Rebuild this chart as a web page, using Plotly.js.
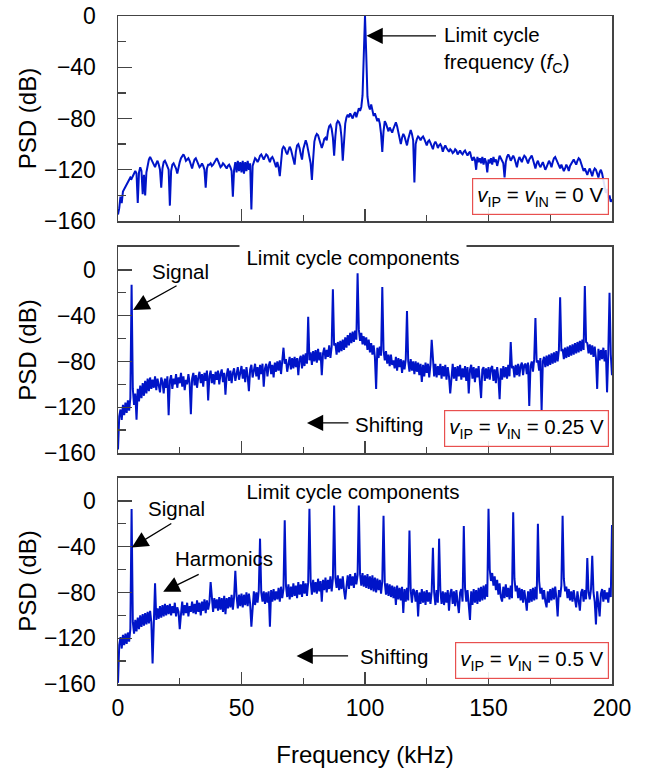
<!DOCTYPE html>
<html>
<head>
<meta charset="utf-8">
<script src="https://cdn.plot.ly/plotly-3.0.1.min.js"></script>
<style>html,body{margin:0;padding:0;background:#fff;}#chart{width:658px;height:769px;}</style>
</head>
<body>
<div id="chart"></div>
<script>
// Frequency grid: 0 to 200 kHz, 0.5 kHz step (x0/dx given to Plotly)
const freqStart = 0;
const freqStep = 0.5;

// PSD (dB), vIP = vIN = 0 V
const psdZero = [
-155,-150,-141,-146,-137,-135,-133,-131,-129,-128,-126,-127,-125,-124,-121,-123,-146,-122,-118,-121,
-139,-124,-140,-122,-115,-112,-110,-112,-114,-116,-118,-115,-113,-116,-120,-134,-119,-114,-113,-115,
-117,-120,-148,-121,-116,-115,-117,-119,-123,-117,-114,-111,-109,-108,-110,-113,-112,-111,-113,-116,
-119,-115,-112,-111,-113,-116,-118,-117,-115,-117,-120,-134,-119,-116,-116,-115,-117,-116,-114,-112,
-111,-113,-116,-118,-117,-115,-116,-118,-119,-117,-116,-118,-121,-141,-120,-114,-122,-113,-121,-114,
-122,-113,-123,-114,-121,-113,-120,-115,-151,-117,-113,-111,-112,-114,-112,-109,-108,-110,-112,-110,
-108,-109,-112,-114,-111,-110,-112,-116,-118,-114,-118,-125,-110,-104,-102,-103,-106,-108,-105,-102,
-104,-108,-112,-116,-106,-101,-100,-103,-108,-112,-104,-99,-97,-100,-104,-110,-115,-128,-112,-98,
-94,-92,-93,-96,-99,-103,-100,-96,-95,-97,-90,-86,-85,-88,-95,-109,-94,-84,-82,-83,
-86,-95,-113,-96,-84,-79,-77,-79,-76,-78,-80,-77,-75,-79,-76,-72,-74,-71,-62,-30,
0,-30,-63,-70,-73,-69,-74,-78,-76,-79,-82,-80,-84,-92,-106,-90,-82,-84,-88,-90,
-87,-89,-91,-88,-85,-83,-86,-91,-96,-100,-95,-92,-94,-97,-101,-96,-91,-89,-92,-97,
-130,-100,-96,-94,-95,-97,-95,-94,-96,-99,-101,-98,-97,-99,-102,-104,-100,-98,-100,-103,
-101,-100,-102,-106,-103,-101,-103,-105,-106,-104,-105,-107,-106,-104,-105,-108,-106,-105,-107,-108,
-106,-105,-107,-109,-107,-106,-110,-113,-110,-112,-120,-110,-114,-111,-115,-110,-116,-111,-114,-122,
-112,-115,-111,-116,-110,-114,-112,-117,-113,-109,-111,-113,-115,-126,-114,-110,-108,-110,-113,-111,
-109,-111,-115,-118,-113,-110,-112,-114,-111,-109,-110,-112,-115,-112,-110,-109,-112,-116,-119,-115,
-113,-116,-118,-116,-114,-117,-120,-118,-116,-113,-115,-118,-114,-111,-110,-112,-115,-117,-119,-116,
-118,-121,-119,-116,-118,-121,-117,-115,-113,-112,-114,-116,-113,-111,-112,-115,-118,-121,-119,-122,
-124,-121,-119,-122,-125,-121,-119,-120,-123,-126,-122,-120,-123,-127,-133,-138,-135,-142,-140,-145,
-143
];

// PSD (dB), vIP = vIN = 0.25 V
const psdQuarter = [
-157,-128,-122,-131,-118,-127,-116,-125,-114,-123,-112,-13,-104,-118,-108,-131,-104,-115,-101,-112,
-99,-110,-97,-108,-95,-106,-94,-104,-96,-103,-93,-105,-95,-101,-107,-94,-98,-108,-95,-103,
-93,-127,-97,-92,-104,-95,-100,-91,-103,-94,-99,-90,-102,-93,-105,-96,-100,-91,-99,-126,
-95,-90,-101,-92,-103,-94,-89,-99,-91,-102,-90,-97,-88,-114,-93,-88,-99,-91,-100,-89,
-96,-88,-100,-91,-87,-98,-90,-109,-92,-86,-97,-88,-99,-90,-86,-97,-89,-85,-96,-88,
-84,-95,-87,-98,-85,-93,-106,-87,-83,-94,-86,-82,-93,-85,-96,-83,-91,-82,-102,-86,
-82,-93,-84,-80,-91,-83,-94,-81,-89,-80,-88,-79,-91,-82,-68,-82,-78,-89,-80,-76,
-87,-77,-86,-76,-85,-77,-92,-78,-75,-86,-74,-84,-73,-82,-41,-79,-72,-83,-71,-80,
-70,-81,-69,-79,-72,-92,-73,-68,-78,-70,-76,-66,-77,-67,-17,-66,-64,-74,-63,-72,
-62,-71,-61,-70,-59,-68,-57,-66,-55,-64,-54,-63,-53,-61,-3,-52,-62,-55,-65,-58,
-66,-59,-70,-61,-72,-64,-74,-66,-76,-104,-68,-77,-67,-75,-15,-70,-79,-71,-82,-74,
-84,-74,-83,-79,-86,-76,-88,-77,-85,-78,-90,-79,-87,-78,-36,-80,-89,-78,-88,-80,
-91,-80,-89,-81,-92,-82,-98,-83,-93,-81,-90,-82,-94,-83,-61,-84,-93,-82,-94,-84,
-92,-82,-95,-84,-93,-83,-96,-85,-93,-108,-91,-82,-95,-85,-97,-84,-93,-83,-96,-86,
-94,-84,-97,-85,-108,-87,-83,-95,-85,-98,-86,-94,-84,-96,-112,-87,-85,-97,-86,-95,
-85,-96,-86,-84,-97,-87,-99,-85,-94,-113,-86,-96,-84,-94,-85,-95,-83,-93,-63,-86,
-84,-94,-83,-92,-82,-93,-84,-81,-92,-83,-82,-91,-81,-119,-84,-80,-89,-78,-42,-81,
-79,-88,-77,-123,-80,-76,-85,-75,-84,-74,-83,-73,-82,-72,-81,-71,-80,-70,-24,-71,
-69,-78,-68,-77,-67,-76,-66,-75,-65,-74,-64,-73,-63,-72,-62,-71,-61,-70,-14,-63,
-64,-73,-65,-74,-66,-76,-67,-77,-104,-69,-79,-70,-78,-68,-80,-70,-107,-72,-20,-74,
-92
];

// PSD (dB), vIP = vIN = 0.5 V
const psdHalf = [
-159,-126,-119,-129,-117,-126,-116,-125,-115,-123,-112,-7,-106,-116,-104,-114,-102,-112,-100,-110,
-99,-109,-98,-108,-97,-107,-96,-106,-142,-104,-72,-104,-94,-103,-92,-102,-91,-101,-90,-100,
-91,-99,-90,-100,-92,-98,-89,-101,-93,-97,-112,-99,-88,-100,-91,-98,-89,-101,-92,-97,
-88,-98,-90,-99,-87,-97,-89,-100,-88,-96,-86,-98,-87,-95,-89,-71,-86,-97,-85,-94,
-86,-96,-84,-95,-85,-97,-83,-99,-85,-94,-84,-93,-82,-95,-84,-61,-83,-94,-82,-92,
-81,-93,-82,-91,-80,-92,-81,-90,-110,-89,-79,-91,-80,-89,-78,-33,-80,-88,-79,-90,
-80,-89,-79,-110,-78,-88,-77,-87,-79,-86,-76,-88,-75,-85,-77,-17,-74,-84,-73,-86,
-75,-84,-72,-83,-74,-85,-71,-82,-73,-84,-70,-81,-72,-83,-71,-7,-70,-82,-69,-80,
-71,-81,-68,-79,-70,-88,-69,-78,-67,-80,-69,-77,-66,-79,-68,-4,-67,-76,-65,-78,
-68,-77,-66,-78,-86,-75,-65,-77,-64,-74,-66,-76,-63,-73,-65,-4,-64,-74,-63,-75,
-65,-76,-64,-77,-66,-78,-65,-79,-67,-80,-68,-78,-69,-81,-70,-13,-71,-82,-72,-83,
-73,-84,-74,-85,-75,-91,-74,-86,-76,-87,-75,-98,-77,-88,-76,-87,-26,-78,-89,-77,
-79,-88,-78,-101,-80,-90,-77,-89,-79,-91,-78,-88,-80,-90,-79,-41,-80,-91,-78,-89,
-33,-78,-90,-79,-91,-80,-89,-78,-96,-81,-77,-90,-79,-92,-78,-89,-98,-80,-77,-88,
-22,-76,-88,-78,-90,-104,-79,-91,-77,-89,-78,-90,-76,-88,-75,-87,-74,-86,-73,-84,
-7,-60,-70,-63,-74,-66,-78,-69,-82,-72,-84,-88,-75,-85,-73,-84,-76,-86,-74,-85,
-10,-68,-79,-74,-85,-76,-87,-77,-89,-78,-86,-96,-79,-89,-77,-88,-76,-87,-75,-86,
-20,-70,-81,-76,-86,-78,-88,-93,-79,-89,-77,-87,-76,-86,-75,-85,-101,-78,-84,-74,
-13,-68,-79,-75,-85,-77,-87,-79,-88,-78,-86,-93,-79,-89,-96,-80,-77,-88,-78,-86,
-50,-80,-86,-77,-48,-80,-88,-108,-79,-90,-101,-81,-77,-88,-78,-86,-80,-89,-76,-84,
-21
];

const xTickVals = [0, 50, 100, 150, 200];
const xTickText = ['0', '50', '100', '150', '200'];
const yTickVals = [-160, -120, -80, -40, 0];
const yTickText = ['\u2212160', '\u2212120', '\u221280', '\u221240', '0'];

const FONT = 'Liberation Sans, Arial, Helvetica, sans-serif';
const LINE = 'rgb(0,20,200)';
const AX = '#444';

function trace(y, xa, ya) {
  return {type: 'scatter', mode: 'lines', x0: freqStart, dx: freqStep, y: y,
    xaxis: xa, yaxis: ya, line: {color: LINE, width: 2}, hoverinfo: 'skip', showlegend: false};
}

function xAxis(anchor, labels) {
  const a = {
    anchor: anchor, range: [0, 200], tickmode: 'array', tickvals: xTickVals, ticktext: xTickText,
    showticklabels: labels, ticks: 'inside', ticklen: 12, tickwidth: 1.3, tickcolor: AX,
    minor: {tickmode: 'array', tickvals: [25, 75, 125, 175], ticks: 'inside', ticklen: 6, tickwidth: 1.3, tickcolor: AX},
    showline: true, linecolor: AX, linewidth: 1.5, mirror: true, showgrid: false, zeroline: false,
    tickfont: {family: FONT, size: 23, color: '#000'}, ticklabelstandoff: 3, fixedrange: true
  };
  if (labels) a.title = {text: 'Frequency (kHz)', font: {family: FONT, size: 24, color: '#000'}, standoff: 26};
  return a;
}

function yAxis(anchor, domain, top) {
  return {
    anchor: anchor, domain: domain, range: [-160, top], tickmode: 'array', tickvals: yTickVals, ticktext: yTickText,
    ticks: 'inside', ticklen: 14, tickwidth: 1.3, tickcolor: AX,
    minor: {tickmode: 'array', tickvals: [-140, -100, -60, -20], ticks: 'inside', ticklen: 8, tickwidth: 1.3, tickcolor: AX},
    showline: true, linecolor: AX, linewidth: 1.5, mirror: true, showgrid: false, zeroline: false,
    tickfont: {family: FONT, size: 23, color: '#000'}, ticklabelstandoff: 16,
    title: {text: 'PSD (dB)', font: {family: FONT, size: 24, color: '#000'}, standoff: 0}, fixedrange: true
  };
}

const txt = {family: FONT, size: 20.5, color: '#000'};

function label(xr, yr, x, y, text, opts) {
  return Object.assign({xref: xr, yref: yr, x: x, y: y, text: text, showarrow: false, font: txt}, opts || {});
}
function arrow(xr, yr, x, y, ax, ay) {
  return {xref: xr, yref: yr, x: x, y: y, ax: ax, ay: ay, text: '', showarrow: true,
    arrowhead: 2, arrowsize: 2.5, arrowwidth: 1.3, arrowcolor: '#000', standoff: 0, startstandoff: 0};
}
function box(xr, yr, x, y, text) {
  return {xref: xr, yref: yr, x: x, y: y, xanchor: 'right', yanchor: 'bottom', text: text, showarrow: false,
    font: txt, bgcolor: 'rgba(255,255,255,0.88)', bordercolor: '#e8504f', borderwidth: 1.2, borderpad: 4};
}

const annotations = [
  label('x', 'y', 131.2, -26.5, 'Limit cycle<br>frequency (<i>f</i><sub>C</sub>)', {xanchor: 'left', align: 'left'}),
  arrow('x', 'y', 100.6, -15.5, 71, 0),
  box('x', 'y', 198.8, -155.5, '<i>v</i><sub>IP</sub> = <i>v</i><sub>IN</sub> = 0 V'),

  label('x2', 'y2', 95.3, 10.5, 'Limit cycle components', {bgcolor: '#fff', width: 224, borderpad: 1}),
  label('x2', 'y2', 25.1, -1.5, 'Signal'),
  arrow('x2', 'y2', 6.1, -35, 45, -25),
  label('x2', 'y2', 109.7, -135.5, 'Shifting'),
  arrow('x2', 'y2', 76.5, -133.7, 43, 0),
  box('x2', 'y2', 198.8, -154.7, '<i>v</i><sub>IP</sub> = <i>v</i><sub>IN</sub> = 0.25 V'),

  label('x3', 'y3', 95.3, 8.1, 'Limit cycle components', {bgcolor: '#fff', width: 224, borderpad: 1}),
  label('x3', 'y3', 23.7, -7, 'Signal'),
  arrow('x3', 'y3', 5.6, -40.8, 41, -25),
  label('x3', 'y3', 42.9, -50.7, 'Harmonics'),
  arrow('x3', 'y3', 18.3, -79.3, 37, -18),
  label('x3', 'y3', 111.6, -136.4, 'Shifting'),
  arrow('x3', 'y3', 72.3, -135.5, 53, 0),
  box('x3', 'y3', 198.8, -155.6, '<i>v</i><sub>IP</sub> = <i>v</i><sub>IN</sub> = 0.5 V')
];

const layout = {
  width: 658, height: 769,
  margin: {l: 118, r: 46, t: 16, b: 85},
  paper_bgcolor: '#fff', plot_bgcolor: '#fff',
  font: {family: FONT, size: 19, color: '#000'},
  showlegend: false,
  xaxis: xAxis('y', false),
  yaxis: yAxis('x', [0.6931, 1.0], 0),
  xaxis2: xAxis('y2', false),
  yaxis2: yAxis('x2', [0.3458, 0.6542], 20),
  xaxis3: xAxis('y3', true),
  yaxis3: yAxis('x3', [0, 0.3084], 20),
  annotations: annotations
};

Plotly.newPlot('chart', [
  trace(psdZero, 'x', 'y'),
  trace(psdQuarter, 'x2', 'y2'),
  trace(psdHalf, 'x3', 'y3')
], layout, {displayModeBar: false, staticPlot: true});
</script>
</body>
</html>
